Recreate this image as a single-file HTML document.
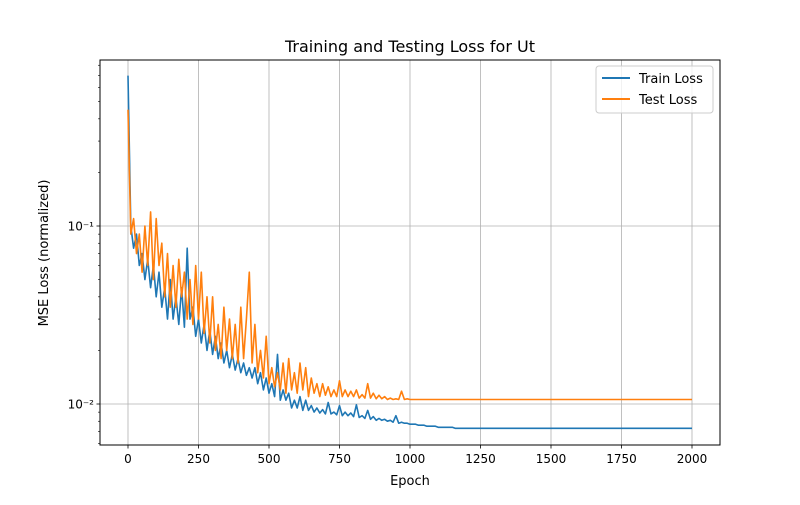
<!DOCTYPE html>
<html><head><meta charset="utf-8"><style>
body{margin:0;background:#fff}
svg text{font-family:"DejaVu Sans","Liberation Sans",sans-serif;fill:#000}
</style></head><body>
<svg id="chart" width="800" height="500">
<text x="410" y="52" font-size="16" text-anchor="middle">Training and Testing Loss for Ut</text>
<text x="410" y="485" font-size="13" text-anchor="middle">Epoch</text>
<text x="48" y="253" font-size="13" text-anchor="middle" transform="rotate(-90 48 253)">MSE Loss (normalized)</text>
<g id="grid"></g><g id="series"></g><g id="axes"></g>
<g>
<rect x="596" y="66" width="117" height="47" rx="3" fill="#fff" fill-opacity="0.8" stroke="#ccc"/>
<line x1="602" y1="78" x2="630" y2="78" stroke="#1f77b4" stroke-width="2"/>
<text x="639" y="83" font-size="13">Train Loss</text>
<line x1="602" y1="99" x2="630" y2="99" stroke="#ff7f0e" stroke-width="2"/>
<text x="639" y="104" font-size="13">Test Loss</text>
</g>
</svg>
<script>
const epochs=[];for(let e=0;e<=1200;e+=10)epochs.push(e);epochs.push(2000);
const trainLoss=[0.70,0.10,0.075,0.09,0.06,0.07,0.05,0.065,0.045,0.06,0.04,0.055,0.035,0.045,0.03,0.05,0.03,0.04,0.028,0.045,0.027,0.075,0.03,0.035,0.024,0.03,0.022,0.028,0.02,0.026,0.019,0.024,0.018,0.022,0.017,0.02,0.016,0.019,0.0155,0.018,0.015,0.017,0.0145,0.016,0.014,0.016,0.013,0.015,0.012,0.014,0.0115,0.013,0.011,0.019,0.0105,0.012,0.0105,0.0115,0.0095,0.0105,0.0095,0.011,0.0092,0.0105,0.0092,0.0098,0.009,0.0095,0.0089,0.0093,0.0088,0.0102,0.0088,0.009,0.0087,0.0098,0.0086,0.009,0.0086,0.0089,0.0085,0.0099,0.0084,0.0086,0.0083,0.0092,0.0082,0.0085,0.0081,0.0083,0.0081,0.0082,0.008,0.0081,0.0079,0.0086,0.0078,0.0079,0.0078,0.0078,0.0077,0.0077,0.0077,0.0076,0.0076,0.0076,0.0075,0.0075,0.0075,0.0075,0.0074,0.0074,0.0074,0.0074,0.0074,0.0074,0.0073,0.0073,0.0073,0.0073,0.0073,0.0073];
const testLoss=[0.45,0.09,0.11,0.07,0.09,0.055,0.10,0.06,0.12,0.05,0.11,0.06,0.08,0.04,0.07,0.035,0.06,0.035,0.065,0.04,0.055,0.03,0.05,0.028,0.06,0.03,0.055,0.025,0.04,0.022,0.04,0.02,0.028,0.018,0.035,0.02,0.03,0.018,0.028,0.017,0.035,0.018,0.03,0.055,0.017,0.028,0.015,0.02,0.014,0.024,0.013,0.016,0.0125,0.015,0.012,0.017,0.0115,0.018,0.012,0.015,0.0115,0.017,0.012,0.016,0.011,0.014,0.0115,0.013,0.011,0.013,0.0112,0.0125,0.011,0.012,0.011,0.0135,0.011,0.012,0.011,0.0118,0.011,0.012,0.0108,0.0113,0.0108,0.013,0.0108,0.0115,0.0107,0.0112,0.0107,0.011,0.0106,0.0108,0.0106,0.0107,0.0106,0.0118,0.0106,0.0107,0.0106,0.0106,0.0106,0.0106,0.0106,0.0106,0.0106,0.0106,0.0106,0.0106,0.0106,0.0106,0.0106,0.0106,0.0106,0.0106,0.0106,0.0106,0.0106,0.0106,0.0106,0.0106];
const xTicks=[0,250,500,750,1000,1250,1500,1750,2000];
const yTicks=[0.1,0.01];
const yTickLabels=["10\u207B\u00B9","10\u207B\u00B2"];
const L=100,R=720,T=60,B=445;
const X=v=>128+v*0.282;
const Y=v=>226-(Math.log10(v)+1)*178;
const NS="http://www.w3.org/2000/svg";
function mk(tag,attrs,parent){const el=document.createElementNS(NS,tag);for(const k in attrs)el.setAttribute(k,attrs[k]);document.getElementById(parent).appendChild(el);return el;}
xTicks.forEach(t=>{const x=X(t);
const g=mk('line',{x1:x,x2:x,y1:T,y2:B,stroke:'#b0b0b0','stroke-width':0.8},'grid');


mk('line',{x1:x,x2:x,y1:B,y2:B+3.5,stroke:'#000','stroke-width':0.8},'axes');
const tx=mk('text',{x:x,y:B+18,'font-size':12,'text-anchor':'middle'},'axes');tx.textContent=t;


});
yTicks.forEach((t,i)=>{const y=Y(t);
const g=mk('line',{x1:L,x2:R,y1:y,y2:y,stroke:'#b0b0b0','stroke-width':0.8},'grid');


mk('line',{x1:L-3.5,x2:L,y1:y,y2:y,stroke:'#000','stroke-width':0.8},'axes');
const tx=mk('text',{x:L-6,y:y+4.5,'font-size':12,'text-anchor':'end'},'axes');tx.textContent=yTickLabels[i];


});
[0.001,0.01,0.1].forEach(d=>{for(let m=2;m<=9;m++){const v=d*m,y=Y(v);if(y>T&&y<B)mk('line',{x1:L-2,x2:L,y1:y,y2:y,stroke:'#000','stroke-width':0.6},'axes');}});
function path(vals,color,name){let d='';vals.forEach((v,i)=>{d+=(i?'L':'M')+X(epochs[i]).toFixed(1)+','+Y(v).toFixed(1);});
const p=mk('path',{d:d,fill:'none',stroke:color,'stroke-width':1.6,'stroke-linejoin':'round'},'series');

}
path(trainLoss,'#1f77b4','train-loss-line');
path(testLoss,'#ff7f0e','test-loss-line');
const fr=mk('rect',{x:L,y:T,width:R-L,height:B-T,fill:'none',stroke:'#000','stroke-width':1},'axes');


</script>
</body></html>
